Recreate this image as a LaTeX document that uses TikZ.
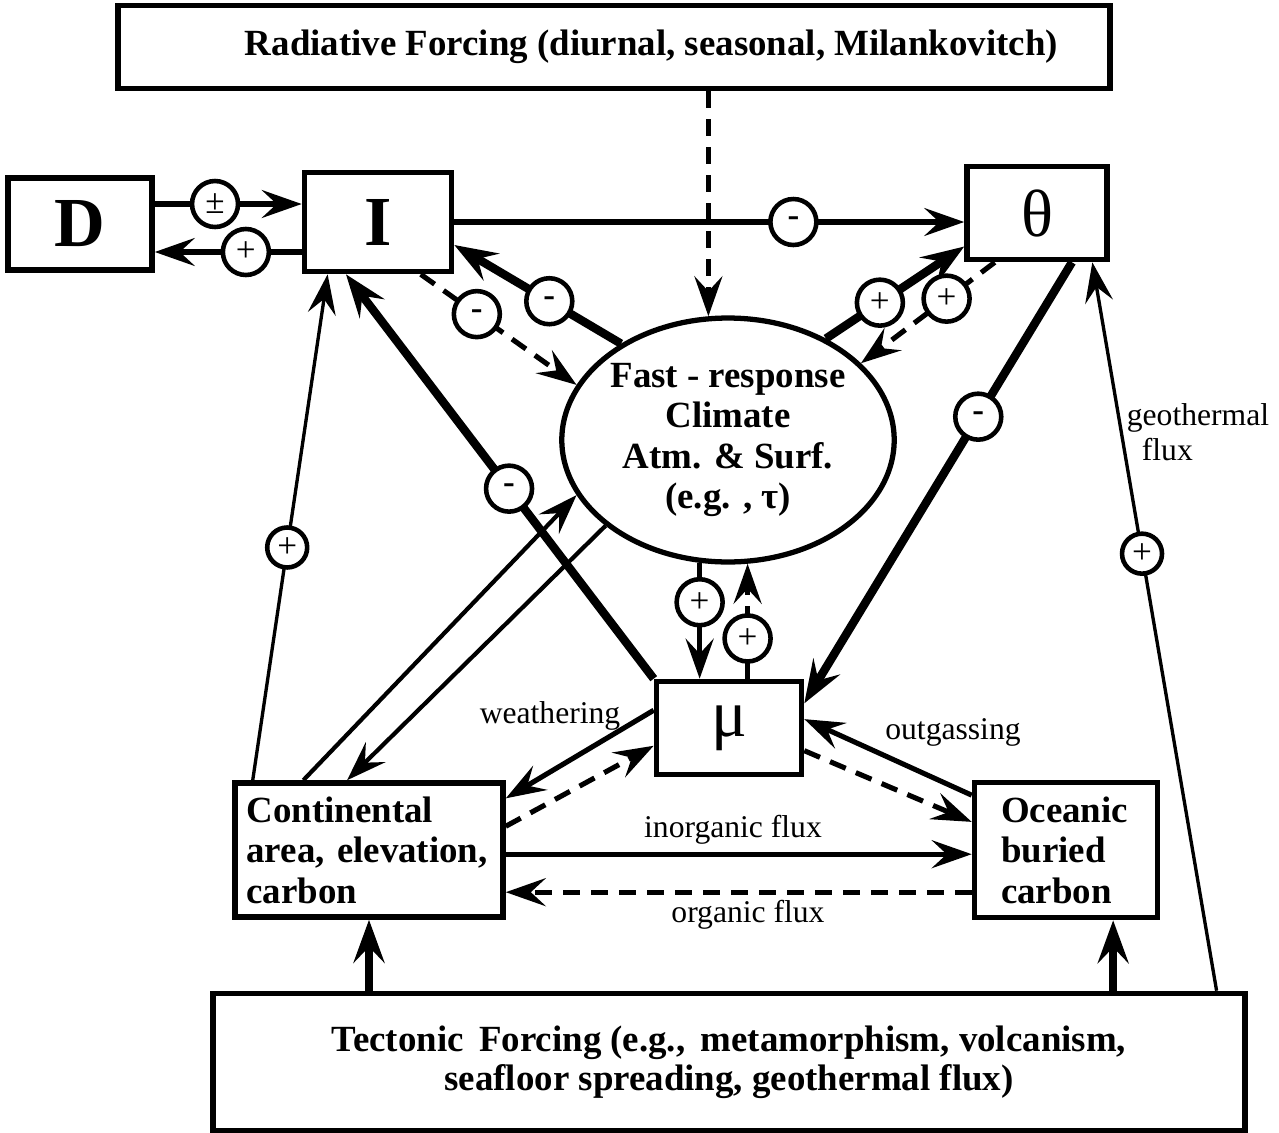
\documentclass[tikz,border=0pt]{standalone}
\usepackage{fontspec}
\setmainfont{Liberation Serif}
\usetikzlibrary{calc, positioning, arrows.meta, shapes.geometric}

\begin{document}
\begin{tikzpicture}[
  x=0.02cm, y=-0.02cm,
  box/.style={draw, line width=3.2pt, inner sep=0pt, font=\bfseries\fontsize{21}{23}\selectfont},
  big/.style={box, font=\bfseries\fontsize{40}{40}\selectfont},
  greek/.style={box, font=\fontsize{38}{38}\selectfont},
  forcing/.style={box, align=center, font=\bfseries\fontsize{21}{22}\selectfont},
  sgn/.style={circle, draw, solid, fill=white, line width=2.6pt, minimum size=0.92cm, inner sep=0pt, font=\fontsize{20}{20}\selectfont},
  lbl/.style={font=\fontsize{18}{20}\selectfont, inner sep=1pt},
  arrtip/.style={-{Stealth[length=0.8cm, width=0.56cm, inset=0.3cm]}},
  arr/.style={arrtip, line width=2.9pt},
  thk/.style={-{Stealth[length=0.86cm, width=0.62cm, inset=0.32cm]}, line width=4.8pt},
  thn/.style={arrtip, line width=1.9pt},
  dsh/.style={arr, dash pattern=on 0.34cm off 0.22cm}
]
\useasboundingbox (0,0) rectangle (1279,1133);

% forcing boxes
\node[forcing, minimum width=19.84cm, minimum height=1.66cm] (rad) at (614,47) {\hspace{1.5cm}Radiative Forcing (diurnal, seasonal, Milankovitch)};
\node[forcing, minimum width=20.64cm, minimum height=2.74cm] (tec) at (729,1062) {Tectonic\, Forcing (e.g.,\, metamorphism, volcanism,\\seafloor spreading, geothermal flux)};

% reservoirs
\node[big, minimum width=2.88cm, minimum height=1.84cm] (D) at (80,224) {D};
\node[big, minimum width=2.94cm, minimum height=1.98cm] (I) at (378,222) {I};
\node[greek, minimum width=2.8cm, minimum height=1.86cm] (th) at (1037,213) {θ};
\node[ellipse, draw, line width=3pt, minimum width=6.52cm, minimum height=4.88cm, inner sep=0pt, align=center,
  font=\bfseries\fontsize{21}{23}\selectfont] (clim) at (728,440) {Fast - response\\Climate\\Atm. \& Surf.\\(e.g. , τ)};
\node[greek, minimum width=2.9cm, minimum height=1.86cm] (mu) at (729,728) {μ};
\node[box, minimum width=5.36cm, minimum height=2.68cm, text width=4.9cm, align=left] (cont) at (369,850) {Continental\\area, elevation,\\carbon};
\node[box, minimum width=3.66cm, minimum height=2.7cm, text width=2.6cm, align=left] (oce) at (1066,850) {Oceanic\\buried\\carbon};

% labels
\node[lbl] (weath) at (550,716) {weathering};
\node[lbl] (outg) at (953,732) {outgassing};
\node[lbl] (inorg) at (733,830) {inorganic flux};
\node[lbl] (org) at (748,915) {organic flux};
\node[lbl, align=left] (geo) at (1198,432) {geothermal\\\hspace{0.3cm}flux};

% end points
\coordinate (di) at ([yshift=0.4cm]D.east);
\coordinate (id) at ([yshift=-0.6cm]I.west);
\coordinate (ic) at ([yshift=-0.46cm]I.east);
\coordinate (ci) at ($(cont.north west)!0.075!(cont.north east)$);
\coordinate (mi) at ($(I.south west)!0.29!(I.south east)$);
\coordinate (ti) at ($(I.south west)!0.17!(I.south east)$);
\coordinate (is) at ($(I.south west)!0.78!(I.south east)$);
\coordinate (ct) at ($(th.north west)!0.84!(th.south west)$);
\coordinate (ts) at ($(th.south west)!0.21!(th.south east)$);
\coordinate (tm) at ($(th.south west)!0.74!(th.south east)$);
\coordinate (gt) at ($(th.south west)!0.88!(th.south east)$);
\coordinate (mt) at ($(mu.north east)!0.25!(mu.south east)$);
\coordinate (gb) at ($(tec.north west)!0.97!(tec.north east)$);
\coordinate (cc) at ($(cont.north west)!0.26!(cont.north east)$);
\coordinate (kc) at ($(cont.north west)!0.42!(cont.north east)$);
\coordinate (mw1) at ($(mu.north west)!0.32!(mu.south west)$);
\coordinate (mw2) at ($(mu.north west)!0.68!(mu.south west)$);
\coordinate (ce1) at ($(cont.north east)!0.13!(cont.south east)$);
\coordinate (ce2) at ($(cont.north east)!0.33!(cont.south east)$);
\coordinate (ce3) at ($(cont.north east)!0.53!(cont.south east)$);
\coordinate (me1) at ($(mu.north east)!0.41!(mu.south east)$);
\coordinate (me2) at ($(mu.north east)!0.73!(mu.south east)$);
\coordinate (ow1) at ($(oce.north west)!0.11!(oce.south west)$);
\coordinate (ow2) at ($(oce.north west)!0.3!(oce.south west)$);
\coordinate (ow3) at ($(oce.north west)!0.8!(oce.south west)$);
\coordinate (os) at ($(oce.south west)!0.75!(oce.south east)$);

% D and I
\draw[arr] (di) -- node[sgn, pos=0.41] {±} (di -| I.west);
\draw[arr] (id) -- node[sgn, pos=0.38] {+} (id -| D.east);
\draw[arr] (I.east) -- node[sgn, pos=0.665] {\textbf{-}} (I.east -| th.west);

% climate links
\draw[dsh] (rad.south -| clim.99) -- (clim.99);
\draw[thk] (clim.138) -- node[sgn, pos=0.43] {\textbf{-}} (ic);
\draw[dsh] (is) -- node[sgn, pos=0.36] {\textbf{-}} (clim.160);
\draw[thk] (clim.46) -- node[sgn, pos=0.39] {+} (ct);
\draw[dsh] (ts) -- node[sgn, pos=0.36] {+} (clim.30);
\draw[thk] (tm) -- node[sgn, pos=0.35] {\textbf{-}} (mt);
\draw[thk] (mu.north west) -- node[sgn, pos=0.47] {\textbf{-}} (mi);
\draw[thn] (ci) -- node[sgn, pos=0.46, minimum size=0.8cm] {+} (ti);
\draw[thn] (gb) -- node[sgn, pos=0.6, minimum size=0.8cm] {+} (gt);
\draw[arr] (clim.257) -- node[sgn, pos=0.34] {+} (clim.257 |- mu.north);
\draw[dsh] (clim.279 |- mu.north) -- node[sgn, pos=0.35] {+} (clim.279);
\draw[arr, line width=2.4pt] (cc) -- (clim.200);
\draw[arr, line width=2.4pt] (clim.215) -- (kc);

% carbon cycle
\draw[arr] (mw1) -- (ce1);
\draw[dsh] (ce2) -- (mw2);
\draw[arr] (ow1) -- (me1);
\draw[dsh] (me2) -- (ow2);
\draw[arr] (ce3) -- (ce3 -| oce.west);
\draw[dsh] (ow3) -- (ow3 -| cont.east);

% tectonic forcing
\draw[thk, line width=4.2pt] (tec.north -| cont.south) -- (cont.south);
\draw[thk, line width=4.2pt] (tec.north -| os) -- (os);

\end{tikzpicture}
\end{document}
